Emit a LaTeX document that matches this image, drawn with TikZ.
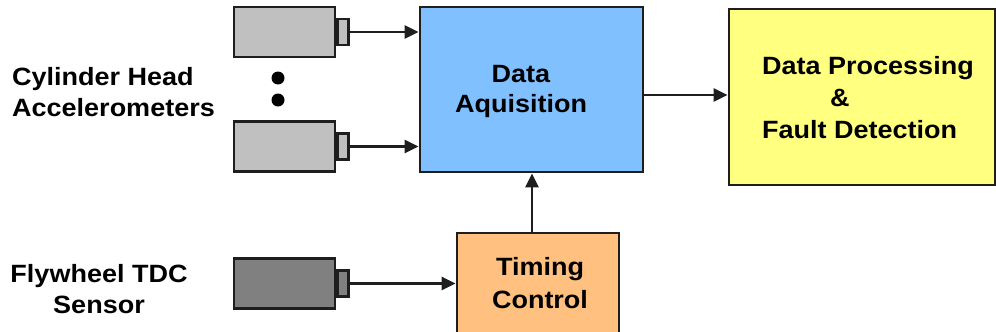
\documentclass[tikz,border=0pt]{standalone}
\usepackage{fontspec}
\setmainfont[FakeStretch=1.08]{Liberation Sans}
\usetikzlibrary{arrows.meta}
\definecolor{edge}{HTML}{1E1E1E}
\definecolor{acqblue}{HTML}{80C0FF}
\definecolor{procyellow}{HTML}{FFFF80}
\definecolor{timeorange}{HTML}{FFC080}
\definecolor{senslight}{HTML}{C0C0C0}
\definecolor{sensdark}{HTML}{808080}
\begin{document}
\begin{tikzpicture}[x=1pt,y=-1pt,
  block/.style={draw=edge, line width=2.8pt, rectangle, inner sep=0pt},
  sensbody/.style={draw=edge, line width=2.6pt, rectangle, inner sep=0pt,
    minimum width=101pt, minimum height=50pt},
  sensplug/.style={draw=edge, line width=2.4pt, rectangle, inner sep=0pt,
    minimum width=11pt, minimum height=26pt},
  arr/.style={draw=edge, line width=2.4pt, -{Triangle[length=14pt,width=13pt]}},
  lbl/.style={inner sep=0pt, font=\bfseries\fontsize{25}{31}\selectfont, text=black},
  dot/.style={circle, fill=black, inner sep=0pt, minimum size=13pt}
]
\useasboundingbox (0,0) rectangle (996,332);
\clip (0,0) rectangle (996,332);

% processing blocks
\node[block, fill=acqblue, minimum width=223pt, minimum height=165pt] (da) at (531.5,89.5) {};
\node[block, fill=procyellow, minimum width=266pt, minimum height=176pt] (dp) at (862,97) {};
\node[block, fill=timeorange, minimum width=162pt, minimum height=110pt] (tc) at (538,288) {};

% cylinder head accelerometers
\node[sensbody, fill=senslight] (s1) at (284.5,32) {};
\node[sensplug, fill=senslight, anchor=west] (p1) at (s1.east) {};
\node[sensbody, fill=senslight] (s2) at (284.5,146.5) {};
\node[sensplug, fill=senslight, anchor=west] (p2) at (s2.east) {};
\node[dot] (d1) at (278,78) {};
\node[dot] (d2) at (278,100) {};

% flywheel TDC sensor
\node[sensbody, fill=sensdark] (s3) at (284.5,283.5) {};
\node[sensplug, fill=sensdark, anchor=west] (p3) at (s3.east) {};

% connections
\draw[arr] (p1.east) -- (p1.east -| da.west);
\draw[arr] (p2.east) -- (p2.east -| da.west);
\draw[arr] (p3.east) -- (p3.east -| tc.west);
\draw[arr] ([xshift=-6pt]tc.north) -- ([xshift=-6pt]tc.north |- da.south);
\draw[arr] ([yshift=-5.5pt]da.east) -- ([yshift=-5.5pt]da.east -| dp.west);

% labels (base anchor sits on the last line)
\node[lbl, anchor=base west, align=left] (cyl) at (12,116) {Cylinder Head\\Accelerometers};
\node[lbl, anchor=base, align=center] (fly) at (99,313) {Flywheel TDC\\Sensor};
\node[lbl, anchor=base, align=center, font=\bfseries\fontsize{25}{30}\selectfont] (dat) at (521,112) {Data\\Aquisition};
\node[lbl, anchor=base west, align=left, font=\bfseries\fontsize{25}{32}\selectfont] (dpt) at (762,138) {Data Processing\\\hspace*{68pt}\&\\Fault Detection};
\node[lbl, anchor=base, align=center, font=\bfseries\fontsize{25}{33}\selectfont] (tct) at (540,308) {Timing\\Control};
\end{tikzpicture}
\end{document}
